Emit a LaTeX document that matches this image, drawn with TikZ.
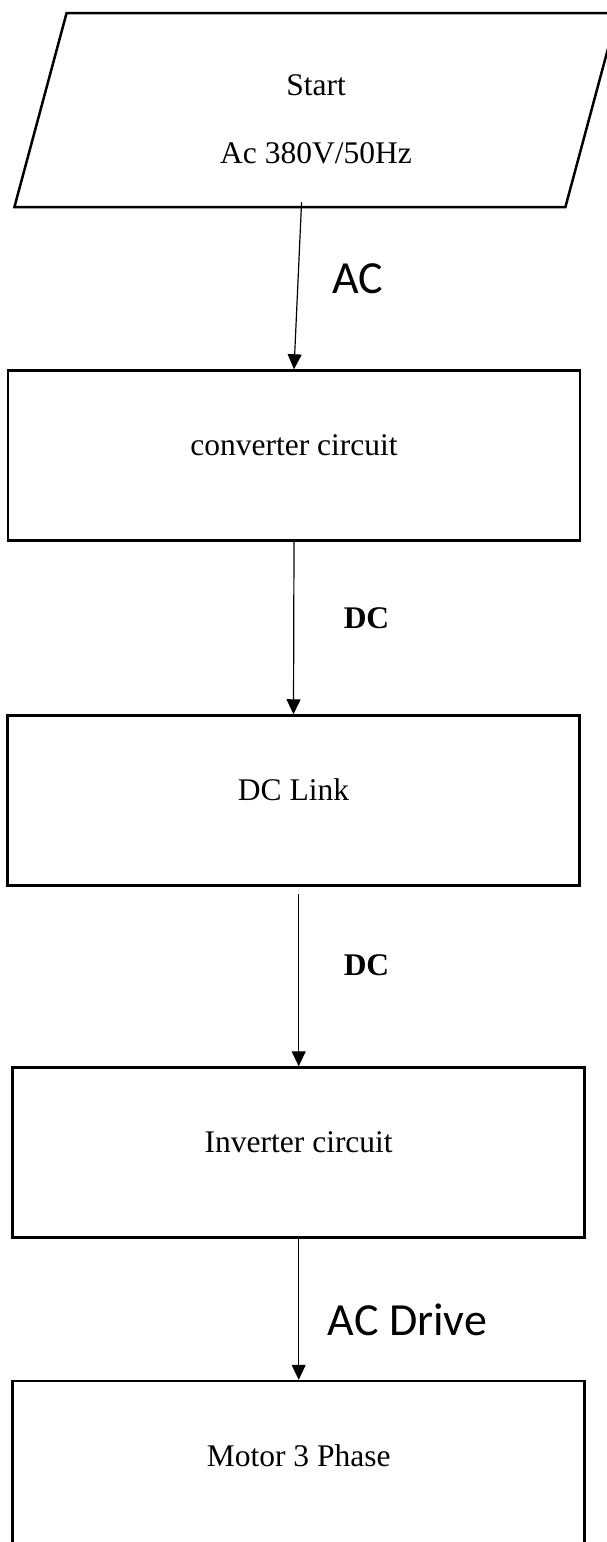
\documentclass[tikz,border=0pt]{standalone}
\usepackage{fontspec}
\setmainfont{Liberation Serif}
\newfontfamily\calibri{Carlito}
\usetikzlibrary{shapes.geometric,arrows.meta}

\begin{document}
\begin{tikzpicture}[x=1pt,y=-1pt,
		block/.style={draw, line width=2.5pt, minimum width=572pt, minimum height=170pt, inner sep=0pt, text height=12pt, text depth=12pt, font=\fontsize{31.5}{38}\selectfont},
		io/.style={draw, line width=2.5pt, trapezium, trapezium left angle=79.7, trapezium right angle=100.3, trapezium stretches, minimum width=604pt, minimum height=194pt, align=center, font=\fontsize{31.5}{38}\selectfont},
		flow/.style={line width=1.2pt},
		aclabel/.style={anchor=base, inner sep=0pt, font=\calibri\fontsize{46}{50}\selectfont},
		dclabel/.style={anchor=base, inner sep=0pt, font=\bfseries\fontsize{31.5}{38}\selectfont},
		>={Triangle[length=15pt,width=14pt]}]
			\useasboundingbox (0,0) rectangle (607,1542) ;
			
			\node[io] (start) at (316,110) {\rule{0pt}{39pt}Start\\[30pt]Ac 380V/50Hz} ;
			\node[block] (conv) at (294,455.5) {converter circuit} ;
			\node[block] (dclink) at (293.5,800.5) {DC Link} ;
			\node[block] (inv) at (298.7,1152.5) {Inverter circuit} ;
			\node[block] (motor) at (298.7,1466) {Motor 3 Phase} ;
			
			\node[aclabel] (ac) at (357.5,293) {AC} ;
			\node[dclabel] (dc1) at (366.5,628) {DC} ;
			\node[dclabel] (dc2) at (366.5,975) {DC} ;
			\node[aclabel] (acdrive) at (407.5,1335) {AC Drive} ;
			
			\draw[flow,->] ([xshift=12pt,yshift=6pt]start.bottom side) -- (conv.north) ;
			\draw[flow,->] (conv.south) -- (dclink.north) ;
			\draw[flow,->] ([yshift=-7pt]dclink.south -| inv.north) -- (inv.north) ;
			\draw[flow,->] (inv.south) -- (motor.north) ;
		\end{tikzpicture}
\end{document}
